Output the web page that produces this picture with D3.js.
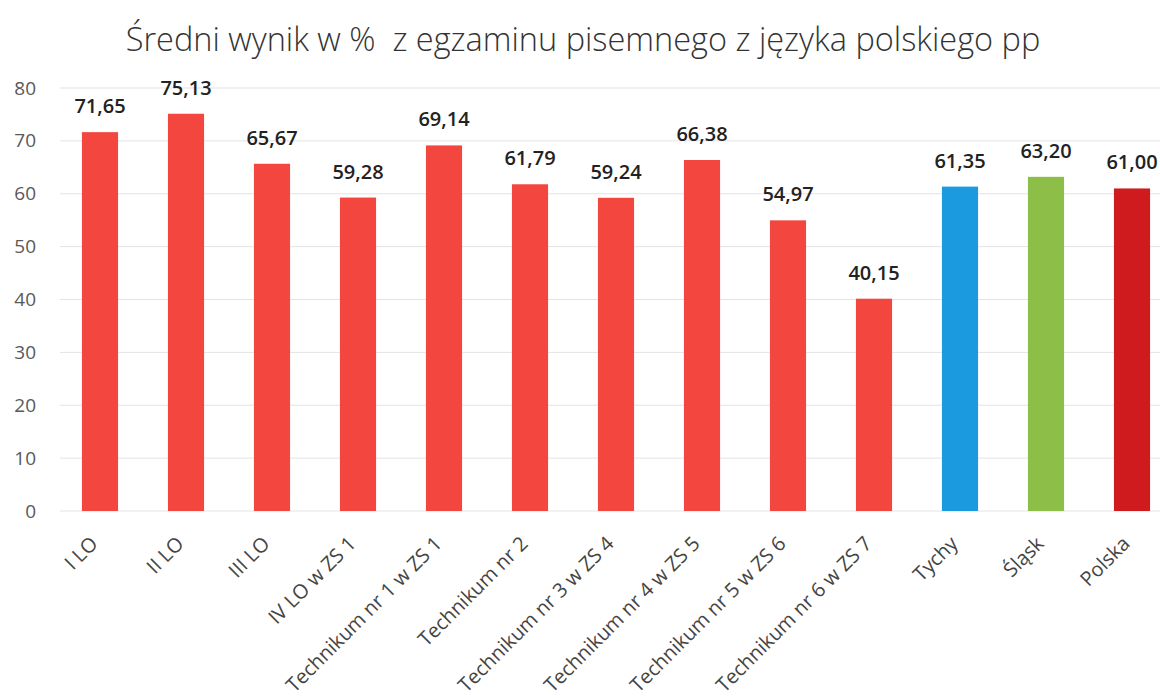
<!DOCTYPE html>
<html>
<head>
<meta charset="utf-8">
<script src="https://cdn.jsdelivr.net/npm/d3@7"></script>
<style>
  body { margin: 0; background: #fff; }
  text { font-family: "Open Sans", "Noto Sans", sans-serif; }
</style>
</head>
<body>
<div id="chart"></div>
<script>
var width = 1160,
    height = 698;

var categories = ["I LO", "II LO", "III LO", "IV LO w ZS 1", "Technikum nr 1 w ZS 1",
  "Technikum nr 2", "Technikum nr 3 w ZS 4", "Technikum nr 4 w ZS 5",
  "Technikum nr 5 w ZS 6", "Technikum nr 6 w ZS 7", "Tychy", "Śląsk", "Polska"];
var values = [71.65, 75.13, 65.67, 59.28, 69.14, 61.79, 59.24, 66.38, 54.97, 40.15, 61.35, 63.20, 61.00];
var barColors = ["#f2463e", "#f2463e", "#f2463e", "#f2463e", "#f2463e", "#f2463e", "#f2463e",
  "#f2463e", "#f2463e", "#f2463e", "#1b9ae0", "#8dbf48", "#cf1b1d"];
var yTicks = [0, 10, 20, 30, 40, 50, 60, 70, 80];
var title = "Średni wynik w %  z egzaminu pisemnego z języka polskiego pp";

var svg = d3.select("#chart").append("svg")
  .attr("width", width)
  .attr("height", height);

var x = d3.scaleBand().domain(categories).range([57, 1175]).paddingInner(0.58).paddingOuter(0.29);
var y = d3.scaleLinear().domain([0, 80]).range([511, 88]);

// title
svg.append("text")
  .attr("x", 583)
  .attr("y", 51)
  .attr("text-anchor", "middle")
  .attr("font-size", 32.5)
  .attr("font-weight", 300)
  .attr("fill", "#333")
  .style("white-space", "pre")
  .text(title);

// grid
svg.append("g").selectAll("line")
  .data(yTicks)
  .enter().append("line")
  .attr("x1", 60).attr("x2", width)
  .attr("y1", function(d) { return y(d); })
  .attr("y2", function(d) { return y(d); })
  .attr("stroke", "#e3e3e6")
  .attr("stroke-width", 1);

// y axis labels
var yAxis = d3.axisLeft(y).tickValues(yTicks).tickSize(0).tickPadding(0);
var gy = svg.append("g").attr("transform", "translate(36,0)").call(yAxis);
gy.select(".domain").remove();
gy.selectAll("text").attr("font-size", 19).attr("fill", "#595959").attr("font-family", "Open Sans");

// bars
svg.append("g").selectAll("rect")
  .data(values)
  .enter().append("rect")
  .attr("x", function(d, i) { return x(categories[i]); })
  .attr("width", x.bandwidth())
  .attr("y", function(d) { return y(d); })
  .attr("height", function(d) { return y(0) - y(d); })
  .attr("fill", function(d, i) { return barColors[i]; });

// value labels
svg.append("g").selectAll("text")
  .data(values)
  .enter().append("text")
  .attr("x", function(d, i) { return x(categories[i]) + x.bandwidth() / 2; })
  .attr("y", function(d) { return y(d) - 19; })
  .attr("text-anchor", "middle")
  .attr("font-size", 20)
  .attr("font-weight", 600)
  .attr("fill", "#222")
  .text(function(d) { return d.toFixed(2).replace(".", ","); });

// x axis labels
var xAxis = d3.axisBottom(x).tickSize(0).tickPadding(0);
var gx = svg.append("g").attr("transform", "translate(0,511)").call(xAxis);
gx.select(".domain").remove();
gx.selectAll("text")
  .attr("font-size", 20)
  .attr("fill", "#444")
  .attr("font-family", "Open Sans")
  .attr("text-anchor", "end")
  .attr("dy", 0)
  .attr("transform", "translate(-1,34) rotate(-45)");
</script>
</body>
</html>
